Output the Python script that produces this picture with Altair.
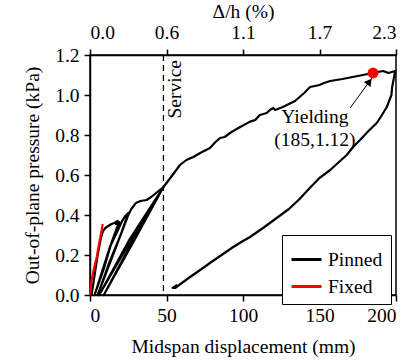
import altair as alt
import pandas as pd

# ---- data ----
pinned_x = [1, 3, 5, 7, 8.5, 10, 12, 14, 16, 18, 17, 19, 14, 9, 3,
            8, 13, 18, 21, 23, 25, 20, 14, 5,
            12, 20, 25, 27, 30, 33, 37, 40, 44, 48, 28, 6,
            26, 48, 30, 9,
            28, 48, 53, 58.8, 63, 67.5, 72, 78.4, 82, 85, 88, 91.5, 97, 104.6, 108, 111,
            115.5, 117.6, 119.8, 121, 126, 130, 134, 137, 140, 143.8, 147, 150, 153, 157,
            165, 175, 185, 188, 191.7, 195, 199.5, 197.5, 197, 194, 190, 187.4, 182, 176.5,
            172, 167.8, 162, 157, 150, 143, 137, 130, 122, 114, 104.6, 100, 93.6, 86, 78.4,
            72, 65.4, 60, 55.6, 54, 57]
pinned_y = [0, 0.1, 0.2, 0.28, 0.32, 0.335, 0.345, 0.355, 0.36, 0.37, 0.355, 0.365, 0.26, 0.13, 0,
            0.12, 0.24, 0.32, 0.37, 0.395, 0.41, 0.3, 0.18, 0,
            0.15, 0.3, 0.4, 0.43, 0.46, 0.47, 0.475, 0.49, 0.515, 0.54, 0.29, 0,
            0.28, 0.54, 0.3, 0,
            0.26, 0.54, 0.59, 0.65, 0.675, 0.69, 0.71, 0.735, 0.765, 0.785, 0.79, 0.81, 0.835, 0.867, 0.875, 0.9,
            0.91, 0.925, 0.935, 0.925, 0.94, 0.955, 0.97, 0.99, 1.01, 1.04, 1.045, 1.05, 1.06, 1.07,
            1.08, 1.095, 1.11, 1.115, 1.12, 1.11, 1.12, 1.04, 1.0, 0.94, 0.89, 0.86, 0.82, 0.775,
            0.74, 0.70, 0.66, 0.625, 0.585, 0.53, 0.48, 0.43, 0.385, 0.34, 0.29, 0.27, 0.24, 0.2, 0.16,
            0.125, 0.09, 0.06, 0.035, 0.035, 0.05]

fixed_x = [0, 1, 2.5, 4.4, 5.5, 6.5, 7.5, 8.3]
fixed_y = [0, 0.07, 0.13, 0.19, 0.24, 0.28, 0.32, 0.355]

series_names = ["Pinned", "Fixed"]
series_colors = ["black", "#ff0000"]

x_ticks = [0, 50, 100, 150, 200]
top_tick_labels = ["0.0", "0.6", "1.1", "1.7", "2.3"]
y_ticks = [0.0, 0.2, 0.4, 0.6, 0.8, 1.0, 1.2]

service_x = [48]
service_label = ["Service"]

yield_point_x = [185]
yield_point_y = [1.11]
annot_text = ["Yielding", "(185,1.12)"]
annot_x = [147, 147]
annot_y = [0.89, 0.775]
arrow_x = [170, 184.3]
arrow_y = [0.935, 1.085]
arrowhead_x = [182.6]
arrowhead_y = [1.067]

FONT = "Liberation Serif"
FS = 19.5

# ---- tables ----
lines = pd.DataFrame({
    "d": pinned_x + fixed_x,
    "p": pinned_y + fixed_y,
    "Series": ["Pinned"] * len(pinned_x) + ["Fixed"] * len(fixed_x),
    "order": list(range(len(pinned_x))) + list(range(len(fixed_x))),
})
service_df = pd.DataFrame({"d": service_x, "label": service_label, "ytop": [1.2]})
point_df = pd.DataFrame({"d": yield_point_x, "p": yield_point_y})
annot_df = pd.DataFrame({"d": annot_x, "p": annot_y, "t": annot_text})
arrow_df = pd.DataFrame({"d": arrow_x, "p": arrow_y, "o": [0, 1]})
head_df = pd.DataFrame({"d": arrowhead_x, "p": arrowhead_y})

xscale = alt.Scale(domain=[0, 200], nice=False, zero=False)
yscale = alt.Scale(domain=[0, 1.2], nice=False)

label_expr = "[" + ",".join("'%s'" % s for s in top_tick_labels) + "][indexof([" + \
    ",".join(str(v) for v in x_ticks) + "], datum.value)]"

x_bottom = alt.X("d:Q", scale=xscale,
                 axis=alt.Axis(orient="bottom", values=x_ticks, title="Midspan displacement (mm)",
                               labelPadding=5, titlePadding=13))
y_left = alt.Y("p:Q", scale=yscale,
               axis=alt.Axis(values=y_ticks, format=".1f", title="Out-of-plane pressure (kPa)",
                             labelPadding=5, titlePadding=12))

xn = alt.X("d:Q", scale=xscale, axis=None)
yn = alt.Y("p:Q", scale=yscale, axis=None)

base_lines = alt.Chart(lines).mark_line(strokeWidth=2.2, strokeJoin="round").encode(
    x=x_bottom,
    y=y_left,
    color=alt.Color("Series:N",
                    scale=alt.Scale(domain=series_names, range=series_colors),
                    legend=alt.Legend(title=None, orient="none", legendX=192, legendY=180,
                                      fillColor="white", strokeColor="black", padding=8,
                                      symbolType="stroke", symbolSize=900, symbolStrokeWidth=3,
                                      labelFont=FONT, labelFontSize=FS, labelColor="black",
                                      rowPadding=1, labelOffset=5)),
    order="order:Q",
    detail="Series:N",
)

top_axis_layer = alt.Chart(service_df).mark_rule(strokeDash=[6, 4], strokeWidth=1.3, color="black").encode(
    x=alt.X("d:Q", scale=xscale,
            axis=alt.Axis(orient="top", values=x_ticks, labelExpr=label_expr, title="Δ/h (%)",
                          labelPadding=7, titlePadding=1)),
    y=alt.value(0),
    y2=alt.value(240),
)

service_text = alt.Chart(service_df).mark_text(
    angle=270, align="right", baseline="top", dx=-5, dy=3, font=FONT, fontSize=FS, color="black"
).encode(x=xn, y=alt.Y("ytop:Q", scale=yscale, axis=None), text="label:N")

arrow_line = alt.Chart(arrow_df).mark_line(color="black", strokeWidth=1).encode(
    x=xn, y=yn, order="o:Q")
arrow_head = alt.Chart(head_df).mark_point(shape="triangle-up", filled=True, color="black",
                                           size=70, angle=36, opacity=1).encode(x=xn, y=yn)

yield_dot = alt.Chart(point_df).mark_circle(color="#ff0000", size=120, opacity=1).encode(x=xn, y=yn)

annot = alt.Chart(annot_df).mark_text(font=FONT, fontSize=FS, color="black").encode(
    x=xn, y=yn, text="t:N")

chart = alt.layer(
    base_lines, top_axis_layer, service_text, arrow_line, arrow_head, yield_dot, annot
).resolve_axis(x="independent", y="independent").properties(
    width=306, height=240,
    background="white",
    autosize=alt.AutoSizeParams(type="none"),
    padding={"left": 90, "top": 55, "right": 21, "bottom": 65},
).configure_view(stroke="black", strokeWidth=1.5).configure_axis(
    grid=False, domainColor="black", domainWidth=1.5, tickColor="black", tickWidth=1.5, tickSize=6,
    labelFont=FONT, labelFontSize=FS, labelColor="black",
    titleFont=FONT, titleFontSize=FS, titleColor="black", titleFontWeight="normal",
)

chart.save("out.html", embed_options={"renderer": "svg", "actions": False})
